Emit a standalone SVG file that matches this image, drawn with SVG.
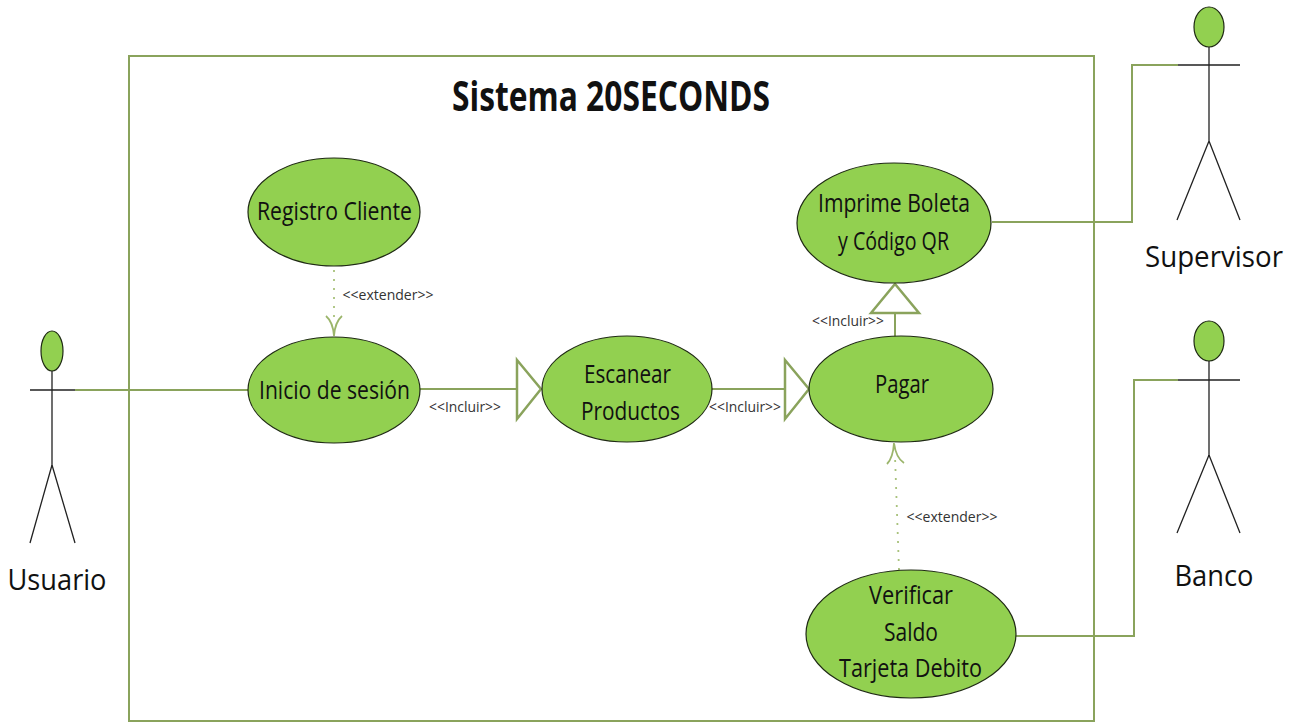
<svg xmlns="http://www.w3.org/2000/svg" width="1294" height="722" viewBox="0 0 1294 722">
<style>
.n{fill:#92d050;stroke:#1f2a14;stroke-width:1.2}
.l{fill:none;stroke:#8aa35c;stroke-width:2}
.a{fill:none;stroke:#222;stroke-width:1.3}
.d{fill:none;stroke:#a9c27c;stroke-width:1.8;stroke-dasharray:2 7}
.h{fill:#fff;stroke:#8aa35c;stroke-width:2.5}
.o{fill:none;stroke:#9bb56b;stroke-width:1.8}
text{font-family:"Open Sans","Liberation Sans",sans-serif;fill:#111;text-anchor:middle}
.t{font-size:25px}
.s{font-size:15px;fill:#333}
.b{font-size:30px}
</style>
<rect width="1294" height="722" fill="#fff"/>
<rect x="129" y="56" width="965" height="665" fill="none" stroke="#8aa35c" stroke-width="2"/>
<text x="611" y="111" font-size="41" font-weight="700" textLength="318" lengthAdjust="spacingAndGlyphs">Sistema 20SECONDS</text>
<g id="connectors">
<path class="l" d="M75 390H248"/>
<path class="l" d="M420 389H517"/>
<path class="h" d="M517 360L541 389L517 419Z"/>
<path class="l" d="M712 389H785"/>
<path class="h" d="M785 360L809 389L785 419Z"/>
<path class="l" d="M895 337V313"/>
<path class="h" d="M871 313L895 284L919 313Z"/>
<path class="l" d="M992 222H1132V65H1178"/>
<path class="l" d="M1016 636H1134V380H1178"/>
<path class="d" d="M334 270V320"/>
<path class="o" d="M326 316Q333 322 334 336Q335 322 342 316"/>
<path class="d" d="M899 570L895 456"/>
<path class="o" d="M887 464Q893 458 894 443Q896 458 904 463"/>
<text class="s" x="388" y="300" textLength="91" lengthAdjust="spacingAndGlyphs">&lt;&lt;extender&gt;&gt;</text>
<text class="s" x="465" y="412" textLength="72" lengthAdjust="spacingAndGlyphs">&lt;&lt;Incluir&gt;&gt;</text>
<text class="s" x="745" y="412" textLength="72" lengthAdjust="spacingAndGlyphs">&lt;&lt;Incluir&gt;&gt;</text>
<text class="s" x="848" y="326" textLength="72" lengthAdjust="spacingAndGlyphs">&lt;&lt;Incluir&gt;&gt;</text>
<text class="s" x="952" y="522" textLength="91" lengthAdjust="spacingAndGlyphs">&lt;&lt;extender&gt;&gt;</text>
</g>
<g id="usuario">
<ellipse class="n" cx="52" cy="351" rx="11" ry="20"/>
<path class="a" d="M52 371V465M30 390H75M52 465L30 543M52 465L75 543"/>
<text class="b" x="57" y="590" textLength="99" lengthAdjust="spacingAndGlyphs">Usuario</text>
</g>
<g id="supervisor">
<ellipse class="n" cx="1209" cy="27" rx="15" ry="20"/>
<path class="a" d="M1209 47V141M1178 65H1240M1209 141L1177 220M1209 141L1240 220"/>
<text class="b" x="1214" y="267" textLength="138" lengthAdjust="spacingAndGlyphs">Supervisor</text>
</g>
<g id="banco">
<ellipse class="n" cx="1209" cy="341" rx="15" ry="20"/>
<path class="a" d="M1209 361V455M1178 380H1240M1209 455L1177 533M1209 455L1240 533"/>
<text class="b" x="1214" y="586" textLength="79" lengthAdjust="spacingAndGlyphs">Banco</text>
</g>
<g id="registro">
<ellipse class="n" cx="334" cy="212" rx="86" ry="54"/>
<text class="t" x="334.500" y="220" textLength="155" lengthAdjust="spacingAndGlyphs">Registro Cliente</text>
</g>
<g id="inicio">
<ellipse class="n" cx="334" cy="390" rx="86" ry="53"/>
<text class="t" x="334.500" y="399" textLength="151" lengthAdjust="spacingAndGlyphs">Inicio de sesión</text>
</g>
<g id="escanear">
<ellipse class="n" cx="627" cy="389" rx="85" ry="53"/>
<text class="t" x="627.500" y="383" textLength="87" lengthAdjust="spacingAndGlyphs">Escanear</text>
<text class="t" x="630.500" y="420" textLength="99" lengthAdjust="spacingAndGlyphs">Productos</text>
</g>
<g id="pagar">
<ellipse class="n" cx="901" cy="389" rx="92" ry="53"/>
<text class="t" x="902" y="393" textLength="54" lengthAdjust="spacingAndGlyphs">Pagar</text>
</g>
<g id="imprime">
<ellipse class="n" cx="894" cy="223" rx="97" ry="60"/>
<text class="t" x="894" y="212" textLength="152" lengthAdjust="spacingAndGlyphs">Imprime Boleta</text>
<text class="t" x="893.500" y="250" textLength="111" lengthAdjust="spacingAndGlyphs">y Código QR</text>
</g>
<g id="verificar">
<ellipse class="n" cx="911" cy="634" rx="105" ry="64"/>
<text class="t" x="911" y="604" textLength="84" lengthAdjust="spacingAndGlyphs">Verificar</text>
<text class="t" x="911" y="641" textLength="54" lengthAdjust="spacingAndGlyphs">Saldo</text>
<text class="t" x="910.500" y="677" textLength="143" lengthAdjust="spacingAndGlyphs">Tarjeta Debito</text>
</g>
</svg>
